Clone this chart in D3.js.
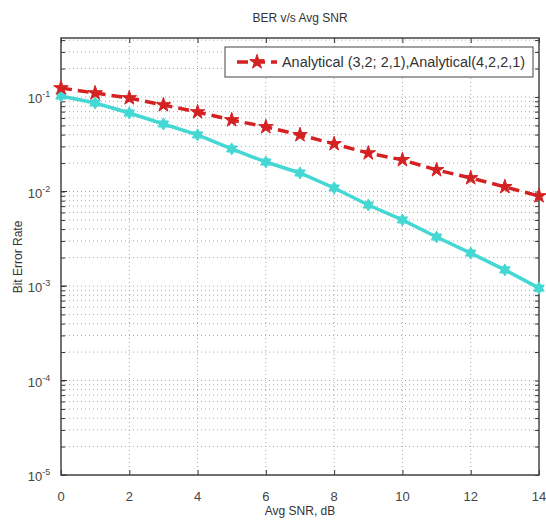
<!DOCTYPE html>
<html><head><meta charset="utf-8">
<script src="https://cdn.jsdelivr.net/npm/d3@7/dist/d3.min.js"></script>
<style>body{margin:0;background:#fff}svg{display:block}text{font-family:"Liberation Sans",Arial,sans-serif}</style>
</head><body>
<svg id="c" width="546" height="522"></svg>
<script>
const snr = [0,1,2,3,4,5,6,7,8,9,10,11,12,13,14];
const berA = [0.1245,0.110,0.0976,0.0823,0.0693,0.0571,0.0482,0.0397,0.0319,0.0255,0.0216,0.0169,0.0139,0.0112,0.00895];
const berB = [0.1025,0.0865,0.0677,0.0518,0.0397,0.0282,0.0205,0.0157,0.0109,0.0072,0.0050,0.0033,0.00223,0.00148,0.00095];
const xTicks = [0,2,4,6,8,10,12,14];
const yTickExp = [-5,-4,-3,-2,-1];
const legendLabel = "Analytical (3,2; 2,1),Analytical(4,2,2,1)";
const titleText = "BER v/s Avg SNR";
const xLabelText = "Avg SNR, dB";
const yLabelText = "Bit Error Rate";

const svg = d3.select("#c");
const L = 61, R = 539, T = 38, B = 475;
const x = d3.scaleLinear().domain([0,14]).range([L,R]);
const y = d3.scaleLog().domain([1e-5, Math.pow(10, -1 + (97-38)/94.5)]).range([B,T]);

// grid
const g = svg.append("g");
const minor = [];
for (let e=-5; e<=0; e++) for (let m=1; m<10; m++) { const v=m*Math.pow(10,e); if (v>=1e-5 && v<=y.domain()[1]) minor.push(v); }
g.selectAll(".hg").data(minor).join("line")
  .attr("x1",L).attr("x2",R).attr("y1",d=>y(d)).attr("y2",d=>y(d))
  .attr("stroke","#a8a8a8").attr("stroke-width",1).attr("stroke-dasharray","1,3");
g.selectAll(".vg").data(xTicks.slice(1,-1)).join("line")
  .attr("x1",d=>x(d)).attr("x2",d=>x(d)).attr("y1",T).attr("y2",B)
  .attr("stroke","#a8a8a8").attr("stroke-width",1).attr("stroke-dasharray","1,3");

// axes with inner ticks
const axL = d3.axisLeft(y).tickValues(minor).tickSize(-4).tickFormat("");
const axR = d3.axisRight(y).tickValues(minor).tickSize(-4).tickFormat("");
const axB = d3.axisBottom(x).tickValues(xTicks).tickSize(-5).tickFormat("");
const axT = d3.axisTop(x).tickValues(xTicks).tickSize(-5).tickFormat("");
[[axL,`translate(${L},0)`],[axR,`translate(${R},0)`],[axB,`translate(0,${B})`],[axT,`translate(0,${T})`]].forEach(([a,t])=>{
  const s = svg.append("g").attr("transform",t).call(a);
  s.select(".domain").remove();
  s.selectAll("line").attr("stroke","#333");
});
svg.selectAll(".mj").data(yTickExp).join("line")
  .attr("x1",L).attr("x2",L+6).attr("y1",d=>y(Math.pow(10,d))).attr("y2",d=>y(Math.pow(10,d))).attr("stroke","#333");
svg.append("rect").attr("x",L).attr("y",T).attr("width",R-L).attr("height",B-T)
  .attr("fill","none").attr("stroke","#444").attr("stroke-width",1.5);

// tick labels
svg.selectAll(".xl").data(xTicks).join("text")
  .attr("x",d=>x(d)).attr("y",B+26).attr("text-anchor","middle")
  .attr("font-size",13).attr("fill","#444").text(d=>d);
const yl = svg.selectAll(".yl").data(yTickExp).join("text")
  .attr("x",L-22).attr("y",d=>y(Math.pow(10,d))+6).attr("text-anchor","middle")
  .attr("font-size",13).attr("fill","#444");
yl.append("tspan").text("10");
yl.append("tspan").attr("dy",-6).attr("font-size",9).text(d=>d);

// labels
svg.append("text").attr("x",300).attr("y",22).attr("text-anchor","middle").attr("font-size",12).attr("fill","#333").text(titleText);
svg.append("text").attr("x",300).attr("y",515).attr("text-anchor","middle").attr("font-size",12).attr("fill","#333").text(xLabelText);
svg.append("text").attr("transform","translate(22,257) rotate(-90)").attr("text-anchor","middle").attr("font-size",12).attr("fill","#333").text(yLabelText);

// hexagram symbol
const hexagram = { draw(ctx, size){ const r=Math.sqrt(size/2.6); const ri=r*0.58;
  for(let i=0;i<12;i++){ const a=Math.PI/6*i - Math.PI/2; const rr = i%2? ri : r; const px=rr*Math.cos(a), py=rr*Math.sin(a); i?ctx.lineTo(px,py):ctx.moveTo(px,py);} ctx.closePath(); } };

const line = d3.line().x(d=>x(d[0])).y(d=>y(d[1]));
const cyan = "#44d8d4", red = "#d42222";
const dB = snr.map((s,i)=>[s,berB[i]]);
const dA = snr.map((s,i)=>[s,berA[i]]);
svg.append("path").attr("d",line(dB)).attr("fill","none").attr("stroke",cyan).attr("stroke-width",3.5);
svg.selectAll(".mb").data(dB).join("path").attr("transform",d=>`translate(${x(d[0])},${y(d[1])})`)
  .attr("d",d3.symbol(hexagram,95)).attr("fill",cyan).attr("stroke",cyan).attr("stroke-width",1);
svg.append("path").attr("d",line(dA)).attr("fill","none").attr("stroke",red).attr("stroke-width",3.5).attr("stroke-dasharray","11,6");
svg.selectAll(".ma").data(dA).join("path").attr("transform",d=>`translate(${x(d[0])},${y(d[1])})`)
  .attr("d",d3.symbol(d3.symbolStar,65)).attr("fill",red).attr("stroke",red).attr("stroke-width",1);

// legend
const lg = svg.append("g");
lg.append("rect").attr("x",225).attr("y",47).attr("width",308).attr("height",30).attr("fill","#fff").attr("stroke","#444").attr("stroke-width",1);
lg.append("line").attr("x1",237).attr("x2",277).attr("y1",62).attr("y2",62).attr("stroke",red).attr("stroke-width",3.5).attr("stroke-dasharray","11,6");
lg.append("path").attr("transform","translate(257,62)").attr("d",d3.symbol(d3.symbolStar,65)).attr("fill",red).attr("stroke",red);
lg.append("text").attr("x",282).attr("y",67).attr("font-size",14).attr("fill","#333")
  .attr("textLength",243).attr("lengthAdjust","spacingAndGlyphs").text(legendLabel);
</script>
</body></html>
